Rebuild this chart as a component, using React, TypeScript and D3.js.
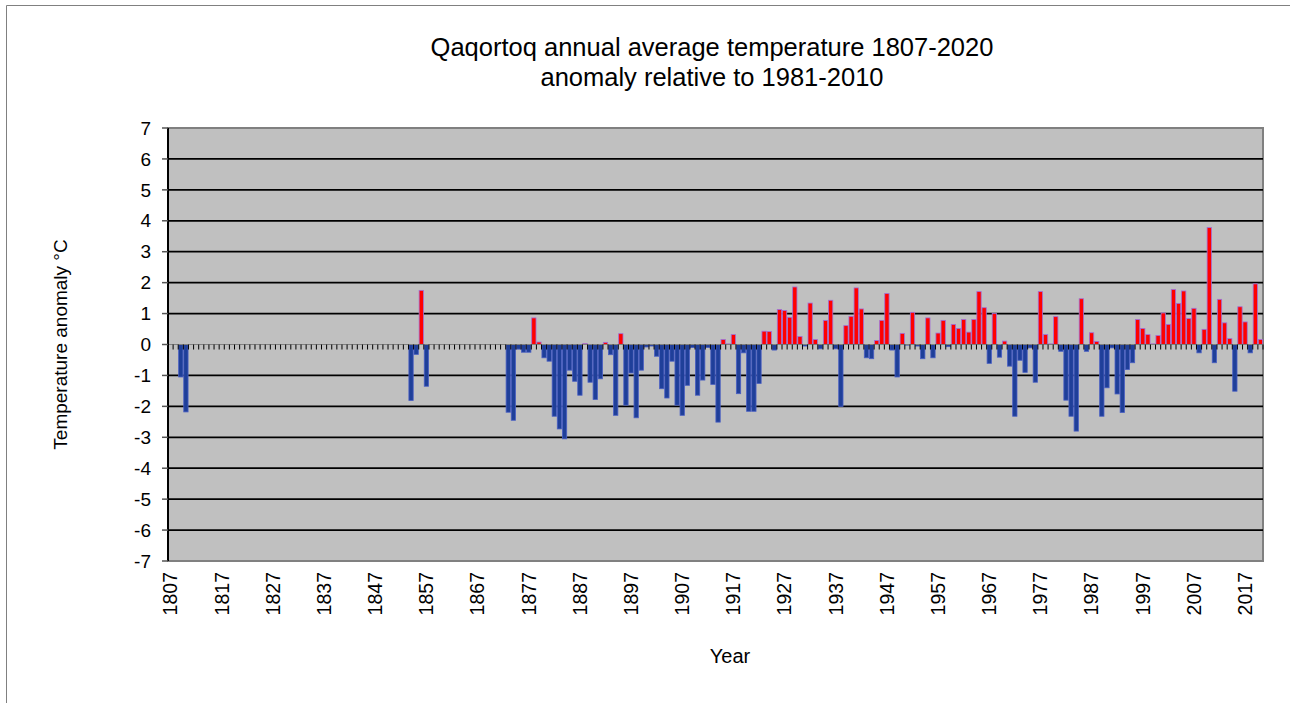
import React from 'react';
import * as d3 from 'd3';

// Data: annual temperature anomaly (°C) relative to 1981-2010, Qaqortoq
const firstYear = 1807;
const lastYear = 2020;
const series1809 = [-1.05, -2.18]; // 1809-1810
const series1854 = [-1.81, -0.32, 1.75, -1.35]; // 1854-1857
const series1873 = [
  -2.19, -2.45, -0.15, -0.25, -0.25, 0.86, 0.08, -0.43, -0.54, -2.32, // 1873-1882
  -2.73, -3.05, -0.83, -1.19, -1.64, 0.03, -1.22, -1.78, -1.11, 0.07, // 1883-1892
  -0.33, -2.29, 0.35, -1.96, -0.92, -2.37, -0.83, -0.08, -0.05, -0.38, // 1893-1902
  -1.43, -1.73, -0.54, -1.96, -2.29, -1.32, -0.1, -1.64, -1.15, -0.1, // 1903-1912
  -1.29, -2.51, 0.16, 0.02, 0.32, -1.59, -0.27, -2.16, -2.16, -1.26, // 1913-1922
  0.43, 0.42, -0.18, 1.13, 1.1, 0.88, 1.86, 0.26, -0.05, 1.34, // 1923-1932
  0.16, -0.14, 0.78, 1.43, -0.14, -2.0, 0.61, 0.91, 1.83, 1.15, // 1933-1942
  -0.43, -0.46, 0.13, 0.78, 1.65, -0.18, -1.05, 0.36, -0.02, 1.04, // 1943-1952
  -0.05, -0.46, 0.86, -0.43, 0.37, 0.78, -0.07, 0.65, 0.52, 0.81, // 1953-1962
  0.4, 0.81, 1.71, 1.19, -0.61, 1.0, -0.41, 0.11, -0.7, -2.32, // 1963-1972
  -0.51, -0.9, -0.11, -1.22, 1.71, 0.32, 0.02, 0.9, -0.22, -1.8, // 1973-1982
  -2.32, -2.8, 1.48, -0.22, 0.38, 0.1, -2.32, -1.4, -0.11, -1.6, // 1983-1992
  -2.2, -0.81, -0.59, 0.81, 0.52, 0.32, 0.02, 0.29, 1.02, 0.65, // 1993-2002
  1.78, 1.33, 1.73, 0.84, 1.17, -0.27, 0.49, 3.78, -0.59, 1.46, // 2003-2012
  0.7, 0.19, -1.51, 1.22, 0.73, -0.27, 1.96, 0.16, // 2013-2020
];
const xTickLabels = [
  '1807', '1817', '1827', '1837', '1847', '1857', '1867', '1877', '1887', '1897', '1907',
  '1917', '1927', '1937', '1947', '1957', '1967', '1977', '1987', '1997', '2007', '2017',
];
const yTicks = [-7, -6, -5, -4, -3, -2, -1, 0, 1, 2, 3, 4, 5, 6, 7];
const titleLines = [
  'Qaqortoq annual average temperature 1807-2020',
  'anomaly relative to 1981-2010',
];

type Row = { year: number; value: number | null };
const years: number[] = [];
for (let y = firstYear; y <= lastYear; y++) years.push(y);
const segments: [number, number[]][] = [
  [1809, series1809],
  [1854, series1854],
  [1873, series1873],
];
const table: Row[] = years.map((year) => {
  for (const [start, vals] of segments) {
    const k = year - start;
    if (k >= 0 && k < vals.length) return { year, value: vals[k] };
  }
  return { year, value: null };
});

const W = 1290;
const H = 703;
const plot = { left: 168, right: 1263, top: 128, bottom: 561 };
const FONT = "'Liberation Sans', Arial, sans-serif";

export default function App() {
  const x = d3
    .scaleBand<number>()
    .domain(years)
    .range([plot.left, plot.right])
    .paddingInner(0)
    .paddingOuter(0);
  const y = d3.scaleLinear().domain([-7, 7]).range([plot.bottom, plot.top]);
  const y0 = y(0);
  const bw = x.bandwidth();

  return (
    <svg
      width={W}
      height={H}
      style={{ position: 'absolute', left: 0, top: 0, background: '#fff' }}
      fontFamily={FONT}
    >
      {/* outer frame */}
      <line x1={6.5} y1={5.5} x2={W} y2={5.5} stroke="#808080" strokeWidth={1} />
      <line x1={6.5} y1={5.5} x2={6.5} y2={H} stroke="#808080" strokeWidth={1} />

      {/* title */}
      {titleLines.map((t, i) => (
        <text key={i} x={712} y={56 + i * 30} textAnchor="middle" fontSize={25.5} fill="#000">
          {t}
        </text>
      ))}

      {/* plot background */}
      <rect
        x={plot.left}
        y={plot.top}
        width={plot.right - plot.left}
        height={plot.bottom - plot.top}
        fill="#C0C0C0"
        stroke="#808080"
        strokeWidth={2}
      />

      {/* gridlines */}
      {yTicks
        .filter((t) => t !== 0 && t !== 7 && t !== -7)
        .map((t) => (
          <line
            key={t}
            x1={plot.left}
            x2={plot.right}
            y1={y(t)}
            y2={y(t)}
            stroke="#000"
            strokeWidth={1.8}
          />
        ))}

      {/* bars */}
      {table
        .filter((d) => d.value !== null)
        .map((d) => {
          const v = d.value as number;
          const x0 = x(d.year) as number;
          const top = v >= 0 ? y(v) : y0;
          const h = Math.abs(y(v) - y0);
          return (
            <rect
              key={d.year}
              x={x0 + 0.4}
              y={top}
              width={bw - 0.8}
              height={h}
              fill={v >= 0 ? '#FF0000' : '#1F3F99'}
              stroke={v >= 0 ? '#A070D8' : '#4A5FC4'}
              strokeWidth={0.8}
            />
          );
        })}

      {/* zero axis line and category ticks */}
      <line x1={plot.left} x2={plot.right} y1={y0} y2={y0} stroke="#808080" strokeWidth={1.2} />
      {years.map((yr) => {
        const xb = (x(yr) as number) + bw;
        return (
          <line key={yr} x1={xb} x2={xb} y1={y0} y2={y0 + 5} stroke="#000" strokeWidth={1} />
        );
      })}

      {/* y axis */}
      <line x1={plot.left} x2={plot.left} y1={plot.top} y2={plot.bottom} stroke="#000" strokeWidth={2} />
      {yTicks.map((t) => (
        <g key={t}>
          <line x1={plot.left - 6} x2={plot.left} y1={y(t)} y2={y(t)} stroke="#555" strokeWidth={1.5} />
          <text x={151} y={y(t)} dy="0.35em" textAnchor="end" fontSize={19} fill="#000">
            {t}
          </text>
        </g>
      ))}

      {/* x tick labels */}
      {xTickLabels.map((lab) => {
        const yr = +lab;
        const cx = (x(yr) as number) + bw / 2;
        return (
          <text
            key={lab}
            transform={`translate(${cx},${plot.bottom + 11}) rotate(-90)`}
            dy="0.35em"
            textAnchor="end"
            fontSize={19.5}
            fill="#000"
          >
            {lab}
          </text>
        );
      })}

      {/* axis titles */}
      <text x={730} y={663} textAnchor="middle" fontSize={20} fill="#000">
        Year
      </text>
      <text
        transform={`translate(60,${(plot.top + plot.bottom) / 2}) rotate(-90)`}
        dy="0.35em"
        textAnchor="middle"
        fontSize={19}
        fill="#000"
      >
        Temperature anomaly °C
      </text>
    </svg>
  );
}
